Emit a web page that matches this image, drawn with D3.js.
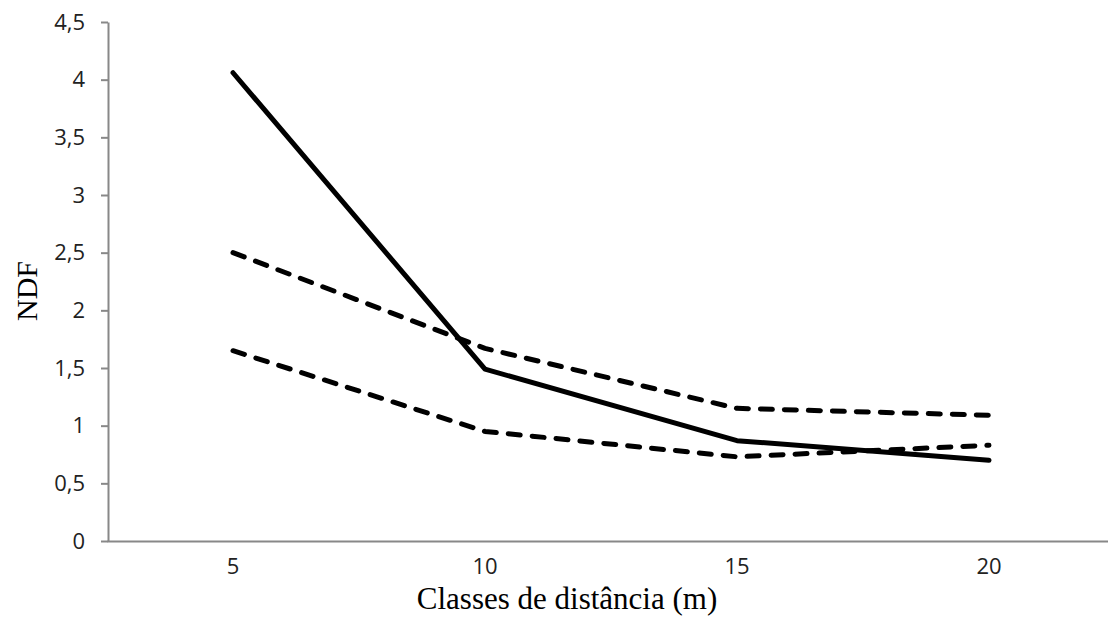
<!DOCTYPE html>
<html><head><meta charset="utf-8">
<script src="https://cdn.jsdelivr.net/npm/d3@7"></script>
<style>body{margin:0;background:#fff}</style>
</head><body>
<svg id="c" width="1108" height="621"></svg>
<script>
const categories = ["5", "10", "15", "20"];
const solidSeries = [4.06, 1.49, 0.87, 0.70];
const upperDashed = [2.50, 1.67, 1.15, 1.09];
const lowerDashed = [1.65, 0.95, 0.73, 0.83];
const yTicks = [0, 0.5, 1, 1.5, 2, 2.5, 3, 3.5, 4, 4.5];
const yTickLabels = ["0", "0,5", "1", "1,5", "2", "2,5", "3", "3,5", "4", "4,5"];

const svg = d3.select("#c");
const x = d3.scaleBand().domain(categories).range([107, 1115]);
const y = d3.scaleLinear().domain([0, 4.5]).range([541, 22]);

// y axis
const yAxis = d3.axisLeft(y).tickValues(yTicks)
  .tickFormat((d, i) => yTickLabels[i]).tickSize(7).tickSizeOuter(0);
const gy = svg.append("g").attr("transform", "translate(108,0)").call(yAxis);
gy.attr("font-size", null).attr("font-family", null);
gy.select(".domain").attr("stroke", "#888").attr("stroke-width", 2);
gy.selectAll(".tick line").attr("stroke", "#888").attr("stroke-width", 2);
gy.selectAll(".tick text").attr("x", -23).attr("fill", "#222")
  .attr("font-family", "'Open Sans', sans-serif").attr("font-size", 22);

// x axis
const xAxis = d3.axisBottom(x).tickSize(0).tickSizeOuter(0);
const gx = svg.append("g").attr("transform", "translate(0,541)").call(xAxis);
gx.attr("font-size", null).attr("font-family", null);
gx.select(".domain").attr("stroke", "#888").attr("stroke-width", 2);
gx.selectAll(".tick text").attr("y", 17).attr("fill", "#222")
  .attr("font-family", "'Open Sans', sans-serif").attr("font-size", 22);

const line = d3.line().x((d, i) => x(categories[i]) + x.bandwidth() / 2).y(d => y(d));

function draw(data, dash) {
  svg.append("path").datum(data).attr("d", line)
    .attr("fill", "none").attr("stroke", "#000").attr("stroke-width", 5)
    .attr("stroke-linecap", "round").attr("stroke-linejoin", "round")
    .attr("stroke-dasharray", dash);
}
draw(upperDashed, "12,12");
draw(lowerDashed, "12,12");
draw(solidSeries, null);

svg.append("text").attr("x", 567).attr("y", 609).attr("text-anchor", "middle")
  .style("font-family", "'Liberation Serif', serif").style("font-size", "31px").attr("fill", "#000")
  .text("Classes de distância (m)");
svg.append("text").attr("transform", "translate(37,291) rotate(-90)").attr("text-anchor", "middle")
  .style("font-family", "'Liberation Serif', serif").style("font-size", "30px").attr("fill", "#000")
  .text("NDF");
</script>
</body></html>
